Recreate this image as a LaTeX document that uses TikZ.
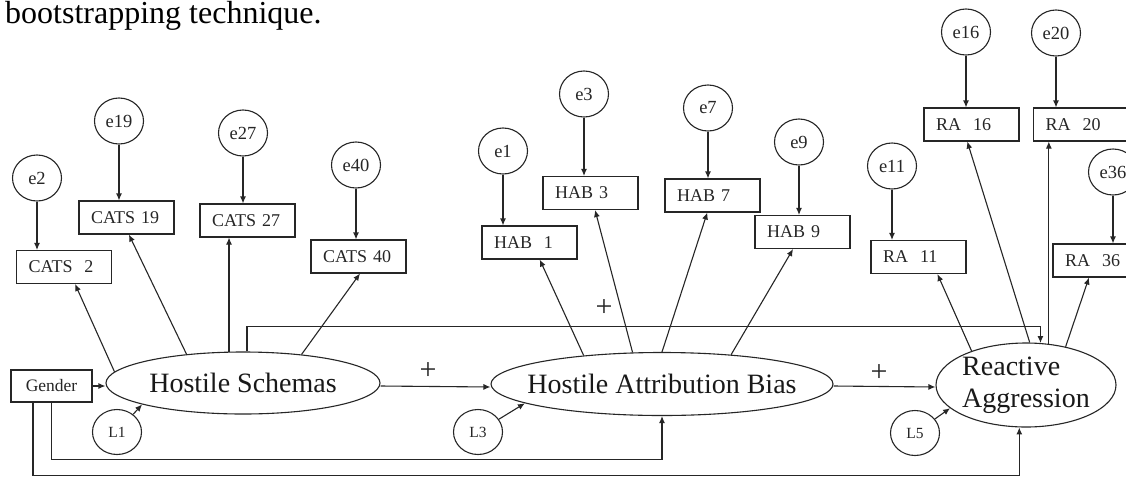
\documentclass[tikz,border=0pt]{standalone}
\usepackage{fontspec}
\setmainfont{Liberation Serif}
\usetikzlibrary{arrows.meta,shapes.geometric,calc}
\tikzset{
  ln/.style={draw=black!85, line width=1.1pt},
  arr/.style={ln, -{Latex[length=7pt,width=6pt]}},
  latent/.style={ellipse, ln, inner xsep=-25pt, inner ysep=-8pt, text=black!90, font=\fontsize{28}{32}\selectfont},
  errc/.style={ellipse, ln, inner sep=0pt, minimum width=49pt, minimum height=46pt, text=black!85, font=\fontsize{18.5}{20}\selectfont},
  resc/.style={ellipse, ln, inner sep=0pt, minimum width=49pt, minimum height=45pt, text=black!85, font=\fontsize{15.5}{17}\selectfont},
  obs/.style={rectangle, ln, minimum height=33pt, text width=71pt, inner xsep=12pt, inner ysep=0pt, align=left, text=black!85, font=\fontsize{18}{20}\selectfont},
  plus/.style={inner sep=0pt, text=black!85, font=\fontsize{30}{30}\selectfont},
}
\begin{document}
\begin{tikzpicture}[x=1pt,y=-1pt]
\clip (0,0) rectangle (1126,477);
\fill[white] (0,0) rectangle (1126,477);

\node[anchor=base west, inner sep=0pt, font=\fontsize{32}{36}\selectfont] (cap) at (5,23.5) {bootstrapping technique.};

% latent variables
\node[latent, minimum width=274pt, minimum height=62pt] (HS) at (243,383) {Hostile Schemas};
\node[latent, minimum width=342pt, minimum height=63pt] (HAB) at (662,384) {Hostile Attribution Bias};
\node[latent, minimum width=180pt, minimum height=84pt, align=left] (RA) at (1026,385) {Reactive\\Aggression};

% gender
\node[rectangle, ln, minimum width=81pt, minimum height=32pt, inner sep=0pt, text=black!85, font=\fontsize{17.5}{20}\selectfont] (G) at (51.5,386) {Gender};

% residuals
\node[resc] (L1) at (117,432) {L1};
\node[resc] (L3) at (478,432) {L3};
\node[resc] (L5) at (915,433) {L5};

% observed indicators
\node[obs] (C2) at (64,267) {CATS~~2};
\node[obs] (C19) at (126.5,217.5) {CATS 19};
\node[obs] (C27) at (247.5,220.5) {CATS 27};
\node[obs] (C40) at (358.5,256.5) {CATS 40};
\node[obs] (H1) at (529.5,242.5) {HAB~~1};
\node[obs] (H3) at (590.5,193) {HAB 3};
\node[obs] (H7) at (712.5,195.5) {HAB 7};
\node[obs] (H9) at (802.5,232) {HAB 9};
\node[obs] (R16) at (971.5,124.5) {RA~~16};
\node[obs] (R20) at (1081,124.5) {RA~~20};
\node[obs] (R11) at (918.5,257) {RA~~11};
\node[obs] (R36) at (1100.5,260.5) {RA~~36};

% error terms
\node[errc] (e2) at (37,178) {e2};
\node[errc] (e19) at (119,121) {e19};
\node[errc] (e27) at (243,133) {e27};
\node[errc] (e40) at (356,165) {e40};
\node[errc] (e1) at (503,151) {e1};
\node[errc] (e3) at (584,94) {e3};
\node[errc] (e7) at (708,108) {e7};
\node[errc] (e9) at (799,142) {e9};
\node[errc] (e16) at (966,32) {e16};
\node[errc] (e20) at (1056,33) {e20};
\node[errc] (e11) at (892,166) {e11};
\node[errc] (e36) at (1113,172) {e36};

% error arrows
\foreach \e/\b in {e2/C2,e19/C19,e27/C27,e40/C40,e1/H1,e3/H3,e7/H7,e9/H9,e16/R16,e20/R20,e11/R11,e36/R36}
  \draw[arr] (\e) -- (\e |- \b.north);

% loadings
\draw[arr] (HS.175.2) -- (C2.-57);
\draw[arr] (HS.153.8) -- (C19.-82);
\draw[arr] (HS.114.4) -- (HS.114.4 |- C27.south);
\draw[arr] (HS.26.2) -- (C40.-85);

\draw[arr] (HAB.160.2) -- (H1.-59);
\draw[arr] (HAB.133.6) -- (H3.-75);
\draw[arr] (HAB.north) -- (H7.-107.5);
\draw[arr] (HAB.23.4) -- (H9.-119);

\draw[arr] (RA.148.1) -- (R11.-42.6);
\draw[arr] (RA.85.9) -- (R16.-104.4);
\draw[arr] (RA.61.6) -- (RA.61.6 |- R20.south);
\draw[arr] (RA.44.1) -- (R36.-124);

% structural paths
\draw[arr] (G.east) -- (G.east -| HS.west);
\draw[arr] ($(HS.east)+(0,3)$) -- ($(HAB.west)+(0,3)$);
\draw[arr] ($(HAB.east)+(0,2)$) -- ($(RA.west)+(0,2)$);
\draw[arr] ($(HS.north)+(4,0)$) -- ($(HS.north)+(4,-25)$) -| (RA.71.4);
\draw[arr] (G.south) -- ++(0,57) -| (HAB.south);
\draw[arr] ($(G.south)+(-18.5,0)$) -- ++(0,73) -| (RA.-99.5);

\draw[arr] (L1) -- (HS.192);
\draw[arr] (L3) -- (HAB.188.4);
\draw[arr] (L5) -- (RA.197.5);

% signs
\node[plus] (p1) at (428,371) {+};
\node[plus] (p2) at (879,373) {+};
\node[plus] (p3) at (604,308) {+};
\end{tikzpicture}
\end{document}
